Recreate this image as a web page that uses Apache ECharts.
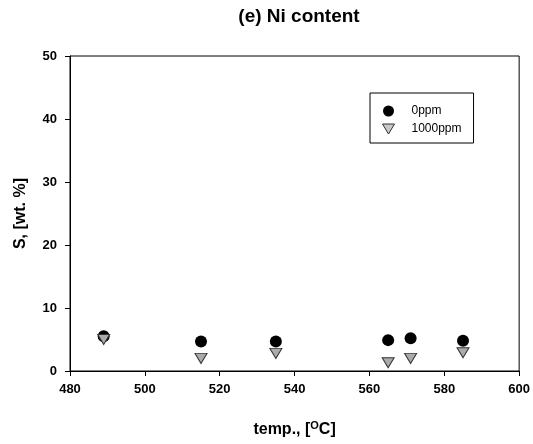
<!DOCTYPE html>
<html><head><meta charset="utf-8">
<script src="https://cdn.jsdelivr.net/npm/echarts@6/dist/echarts.min.js"></script>
<style>html,body{margin:0;padding:0;background:#fff}#c{width:533px;height:444px}</style>
</head><body><div id="c"></div>
<script>
const temps = [489, 515, 535, 565, 571, 585];
const s0ppm = [5.5, 4.7, 4.7, 4.9, 5.2, 4.8];
const s1000ppm = [5.0, 2.0, 2.8, 1.3, 2.0, 2.9];
const seriesNames = ['0ppm', '1000ppm'];
const xTicks = [480, 500, 520, 540, 560, 580, 600];
const yTicks = [0, 10, 20, 30, 40, 50];

const font = '"Liberation Sans", Arial, sans-serif';
const chart = echarts.init(document.getElementById('c'));
chart.setOption({
  animation: false,
  backgroundColor: '#fff',
  title: {
    text: '(e) Ni content', left: 294, top: 2, textAlign: 'center',
    textStyle: {fontFamily: font, fontWeight: 'bold', fontSize: 19, color: '#000'}
  },
  grid: {left: 70, right: 12, top: 56, bottom: 73, show: true, borderColor: '#000', borderWidth: 1, containLabel: false},
  legend: {
    orient: 'vertical', left: 370, top: 93,
    borderColor: '#000', borderWidth: 1,
    padding: [12, 12, 8, 12],
    itemWidth: 12, itemHeight: 11, itemGap: 6,
    textStyle: {fontFamily: font, fontSize: 12, color: '#000', padding: [0, 0, 0, 12]},
    data: [
      {name: seriesNames[0], icon: 'circle', itemStyle: {color: '#000'}},
      {name: seriesNames[1], icon: 'path://M0,0 L12,0 L6,10 Z', itemStyle: {color: '#c8c8c8', borderColor: '#333', borderWidth: 1}}
    ]
  },
  xAxis: {
    type: 'value', min: xTicks[0], max: xTicks[xTicks.length - 1], interval: 20,
    name: '{a|temp., [}{s|O}{a|C]}', nameLocation: 'middle', nameGap: 49,
    nameTextStyle: {
      rich: {
        a: {fontFamily: font, fontWeight: 'bold', fontSize: 16, color: '#000', lineHeight: 20},
        s: {fontFamily: font, fontWeight: 'bold', fontSize: 11, color: '#000', verticalAlign: 'top', lineHeight: 20, padding: [0, 0, 8, 0]}
      }
    },
    axisLine: {show: true, onZero: false, lineStyle: {color: '#000', width: 1}},
    axisTick: {show: true, inside: false, length: 5, lineStyle: {color: '#000'}},
    axisLabel: {fontFamily: font, fontWeight: 'bold', fontSize: 13, color: '#000', margin: 12},
    splitLine: {show: false}
  },
  yAxis: {
    type: 'value', min: yTicks[0], max: yTicks[yTicks.length - 1], interval: 10,
    name: 'S, [wt. %]', nameLocation: 'middle', nameGap: 41, nameRotate: 90,
    nameTextStyle: {fontFamily: font, fontWeight: 'bold', fontSize: 16, color: '#000'},
    axisLine: {show: true, onZero: false, lineStyle: {color: '#000', width: 1}},
    axisTick: {show: true, inside: false, length: 5, lineStyle: {color: '#000'}},
    axisLabel: {fontFamily: font, fontWeight: 'bold', fontSize: 13, color: '#000', margin: 13},
    splitLine: {show: false}
  },
  series: [
    {
      name: seriesNames[0], type: 'scatter', symbol: 'circle', symbolSize: 12,
      itemStyle: {color: '#000', opacity: 1},
      data: temps.map((t, i) => [t, s0ppm[i]]), z: 2
    },
    {
      name: seriesNames[1], type: 'scatter', symbol: 'path://M0,0 L12,0 L6,10 Z', symbolSize: [12, 10],
      symbolKeepAspect: false,
      itemStyle: {color: '#ababab', borderColor: '#333', borderWidth: 1, opacity: 1},
      data: temps.map((t, i) => [t, s1000ppm[i]]), z: 3
    }
  ]
});
</script></body></html>
